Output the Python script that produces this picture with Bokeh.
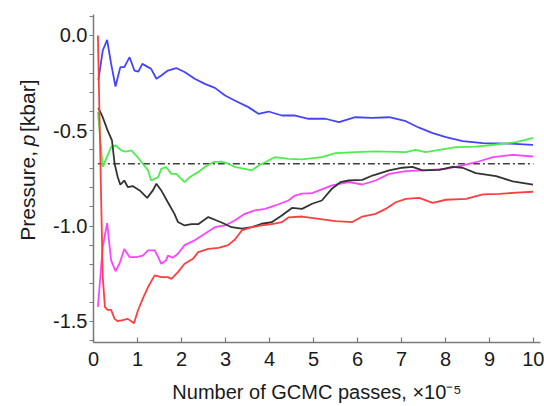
import math
from bokeh.plotting import figure
from bokeh.layouts import row
from bokeh.models import Range1d, FixedTicker
from bokeh.core.properties import value
from bokeh.embed import file_html
from bokeh.resources import INLINE

# ---- data (x in units of 1e5 GCMC passes, p in kbar) ----
blue_x = [0.11, 0.21, 0.31, 0.40, 0.50, 0.61, 0.70, 0.82, 0.93, 1.02, 1.11, 1.24, 1.31, 1.43, 1.54, 1.69,
          1.88, 2.07, 2.30, 2.53, 2.76, 2.99, 3.21, 3.52, 3.75, 3.98, 4.28, 4.58, 4.89, 5.27, 5.58, 5.95,
          6.34, 6.72, 7.10, 7.40, 7.71, 8.01, 8.39, 8.85, 9.46, 9.99]
blue_y = [-0.236, -0.079, -0.023, -0.148, -0.268, -0.166, -0.166, -0.114, -0.184, -0.19, -0.149, -0.166,
          -0.175, -0.227, -0.21, -0.184, -0.171, -0.192, -0.227, -0.254, -0.275, -0.315, -0.341, -0.376,
          -0.411, -0.399, -0.42, -0.42, -0.437, -0.437, -0.455, -0.429, -0.432, -0.429, -0.45, -0.484,
          -0.512, -0.533, -0.554, -0.565, -0.568, -0.574]

green_x = [0.10, 0.21, 0.40, 0.50, 0.63, 0.73, 0.86, 0.97, 1.12, 1.24, 1.31, 1.47, 1.54, 1.65, 1.77, 1.88,
           2.07, 2.19, 2.38, 2.53, 2.72, 2.90, 3.06, 3.21, 3.44, 3.60, 3.75, 3.90, 4.13, 4.43, 4.74, 5.19,
           5.50, 5.95, 6.41, 7.10, 7.32, 7.55, 7.86, 8.24, 8.69, 9.15, 9.61, 9.99]
green_y = [-0.40, -0.69, -0.586, -0.576, -0.603, -0.61, -0.603, -0.63, -0.673, -0.708, -0.761, -0.743,
           -0.70, -0.69, -0.726, -0.726, -0.77, -0.743, -0.717, -0.69, -0.665, -0.662, -0.673, -0.69,
           -0.70, -0.708, -0.682, -0.665, -0.638, -0.647, -0.65, -0.638, -0.617, -0.612, -0.608, -0.612,
           -0.60, -0.612, -0.60, -0.586, -0.583, -0.572, -0.56, -0.537]

black_x = [0.11, 0.21, 0.32, 0.42, 0.48, 0.55, 0.61, 0.70, 0.78, 0.89, 1.05, 1.22, 1.35, 1.43, 1.54, 1.69,
           1.84, 1.92, 2.07, 2.23, 2.38, 2.61, 2.80, 2.90, 3.14, 3.37, 3.60, 3.82, 4.05, 4.28, 4.51, 4.74,
           4.97, 5.19, 5.42, 5.61, 5.80, 6.11, 6.34, 6.72, 7.02, 7.25, 7.48, 7.86, 8.16, 8.39, 8.69, 9.15,
           9.53, 9.99]
black_y = [-0.38, -0.429, -0.498, -0.551, -0.673, -0.743, -0.783, -0.761, -0.796, -0.79, -0.813, -0.852,
           -0.813, -0.778, -0.813, -0.875, -0.936, -0.979, -0.997, -0.99, -0.99, -0.953, -0.971, -0.98,
           -1.006, -1.014, -1.006, -0.988, -0.98, -0.945, -0.905, -0.91, -0.883, -0.866, -0.804, -0.77,
           -0.761, -0.758, -0.735, -0.708, -0.694, -0.69, -0.708, -0.705, -0.69, -0.694, -0.722, -0.738,
           -0.766, -0.783]

magenta_x = [0.10, 0.21, 0.31, 0.40, 0.50, 0.59, 0.70, 0.82, 0.97, 1.12, 1.24, 1.39, 1.47, 1.54, 1.65,
             1.69, 1.80, 1.92, 2.07, 2.30, 2.53, 2.76, 2.99, 3.21, 3.44, 3.67, 3.90, 4.13, 4.43, 4.58,
             4.74, 4.97, 5.42, 5.80, 6.11, 6.41, 6.72, 7.10, 7.48, 8.01, 8.39, 8.77, 9.08, 9.53, 9.99]
magenta_y = [-1.425, -1.11, -0.985, -1.18, -1.237, -1.198, -1.12, -1.163, -1.163, -1.155, -1.128, -1.128,
             -1.163, -1.198, -1.18, -1.155, -1.166, -1.145, -1.10, -1.075, -1.04, -1.006, -0.997, -0.971,
             -0.936, -0.918, -0.91, -0.892, -0.866, -0.84, -0.83, -0.827, -0.787, -0.77, -0.782, -0.761,
             -0.726, -0.712, -0.708, -0.70, -0.682, -0.66, -0.638, -0.626, -0.635]

red_x = [0.10, 0.21, 0.26, 0.32, 0.40, 0.48, 0.55, 0.66, 0.78, 0.86, 0.92, 1.01, 1.12, 1.24, 1.39, 1.54,
         1.69, 1.77, 1.92, 2.07, 2.26, 2.38, 2.61, 2.84, 3.06, 3.21, 3.37, 3.60, 3.82, 4.05, 4.28, 4.43,
         4.74, 5.12, 5.50, 5.88, 6.11, 6.41, 6.64, 6.87, 7.10, 7.40, 7.71, 8.01, 8.47, 8.85, 9.23, 9.61, 9.99]
red_y = [0.0, -1.268, -1.425, -1.44, -1.44, -1.487, -1.499, -1.494, -1.487, -1.5, -1.51, -1.443, -1.381,
         -1.32, -1.259, -1.268, -1.268, -1.277, -1.242, -1.198, -1.172, -1.137, -1.12, -1.115, -1.10,
         -1.072, -1.023, -1.006, -0.997, -0.99, -0.98, -0.955, -0.95, -0.962, -0.974, -0.979, -0.95,
         -0.936, -0.91, -0.875, -0.857, -0.852, -0.878, -0.862, -0.857, -0.834, -0.831, -0.825, -0.82]

ref_x = [0.1, 10.0]
ref_y = [-0.673, -0.673]

x_ticks = [0, 1, 2, 3, 4, 5, 6, 7, 8, 9, 10]
y_ticks = [0.0, -0.5, -1.0, -1.5]
y_tick_labels = ["0.0", "-0.5", "-1.0", "-1.5"]
y_minor = [0.1, -0.1, -0.2, -0.3, -0.4, -0.6, -0.7, -0.8, -0.9, -1.1, -1.2, -1.3, -1.4, -1.6]

x_title = "Number of GCMC passes, \u00d710\u207b\u2075"
y_title_head = "Pressure,"
y_title_var = "p"
y_title_tail = "[kbar]"

FONT = "Liberation Sans"
FS = "20px"
TFS = "21px"
TXT = "#1a1a1a"
AX = "#7a7a7a"

W = 544
H = 406
LW = 40           # width of the strip that carries the rotated y title

# ---- strip with the rotated y-axis title (pixel-like ranges) ----
t = figure(width=LW, height=H, output_backend="svg", toolbar_location=None,
           x_range=Range1d(0, LW), y_range=Range1d(0, H),
           x_axis_location=None, y_axis_location=None,
           min_border_left=0, min_border_right=0, min_border_top=0, min_border_bottom=0)
t.outline_line_color = None
t.grid.visible = False
t.border_fill_color = "white"
t.background_fill_color = "white"

base_x = 27.0               # baseline of the rotated text
var_start = H - 163.0       # where the italic p begins (reading bottom -> top)
var_len = 0.556 * 21        # advance width of p at 21px
space = 0.278 * 21          # width of a word space at 21px
common = dict(angle=math.pi / 2, text_font=value(FONT), text_font_size=value(TFS),
              text_color=TXT, text_baseline="alphabetic")
t.text(x=[base_x], y=[var_start - space], text=[y_title_head], text_align="right", **common)
t.text(x=[base_x], y=[var_start], text=[y_title_var], text_align="left",
       text_font_style="italic", **common)
t.text(x=[base_x], y=[var_start + var_len + space], text=[y_title_tail], text_align="left", **common)

# ---- main plot ----
p = figure(width=W - LW, height=H, output_backend="svg", toolbar_location=None,
           x_range=Range1d(0, 10.16), y_range=Range1d(-1.611, 0.11),
           min_border_left=93 - LW, min_border_right=4, min_border_top=14, min_border_bottom=64)
p.outline_line_color = None
p.grid.visible = False
p.background_fill_color = "white"
p.border_fill_color = "white"

p.line(ref_x, ref_y, line_color="#404040", line_width=1.3, line_dash="7 3 2 3")
p.line(blue_x, blue_y, line_color="#4444ff", line_width=1.8)
p.line(green_x, green_y, line_color="#4cee4c", line_width=1.8)
p.line(magenta_x, magenta_y, line_color="#ff44ff", line_width=1.8)
p.line(black_x, black_y, line_color="#333333", line_width=1.8)
p.line(red_x, red_y, line_color="#ff3f3f", line_width=1.8)

xa = p.xaxis[0]
xa.ticker = FixedTicker(ticks=x_ticks)
xa.axis_label = x_title
xa.major_tick_in = 5
xa.major_tick_out = 0
xa.major_label_standoff = 9
xa.axis_label_standoff = 12

ya = p.yaxis[0]
ya.ticker = FixedTicker(ticks=y_ticks, minor_ticks=y_minor)
ya.major_label_overrides = {tk: s for tk, s in zip(y_ticks, y_tick_labels)}
ya.major_tick_in = 0
ya.major_tick_out = 4
ya.minor_tick_in = 0
ya.minor_tick_out = 4
ya.major_label_standoff = 2

for ax in (xa, ya):
    ax.axis_line_color = AX
    ax.axis_line_width = 1.5
    ax.major_tick_line_color = AX
    ax.major_tick_line_width = 1.2
    ax.minor_tick_line_width = 1.2
    ax.major_label_text_font = FONT
    ax.major_label_text_font_size = FS
    ax.major_label_text_color = TXT
    ax.axis_label_text_font = FONT
    ax.axis_label_text_font_size = FS
    ax.axis_label_text_font_style = "normal"
    ax.axis_label_text_color = TXT
xa.minor_tick_line_color = None
ya.minor_tick_line_color = AX

layout = row(t, p, spacing=0)
open("out.html", "w").write(file_html(layout, INLINE))
